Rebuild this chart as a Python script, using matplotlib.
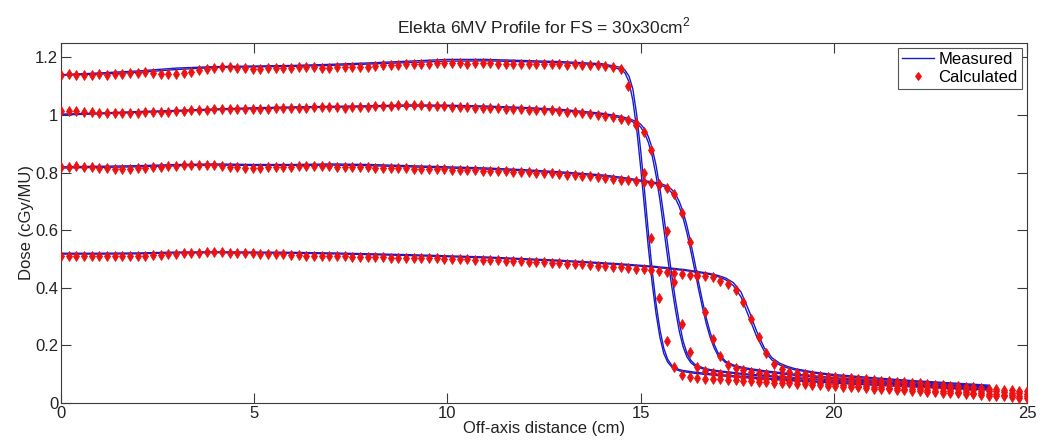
import numpy as np
import matplotlib
matplotlib.use("Agg")
import matplotlib.pyplot as plt
from matplotlib.ticker import FuncFormatter

# ---------------- data ----------------
title = "Elekta 6MV Profile for FS = 30x30cm$^2$"
xlabel = "Off-axis distance (cm)"
ylabel = "Dose (cGy/MU)"
legend_labels = ["Measured", "Calculated"]
x_ticks = [0, 5, 10, 15, 20, 25]
y_ticks = [0, 0.2, 0.4, 0.6, 0.8, 1.0, 1.2]

# measured profiles (two scans per depth), common x grid (cm)
meas_x = [0, 1, 2, 3, 4, 5, 6, 7, 8, 9, 10, 11, 12, 13, 14, 14.5,
          14.6, 14.7, 14.8, 14.9, 15.0, 15.1, 15.2, 15.3, 15.4, 15.5, 15.6, 15.7, 15.8, 15.9,
          16.0, 16.1, 16.2, 16.3, 16.4, 16.5, 16.6, 16.7, 16.8, 16.9, 17.0,
          17.2, 17.4, 17.6, 17.8, 18.0, 18.2, 18.4, 18.6, 18.8, 19.0, 19.5, 20, 21, 22, 23, 24]

meas_d1_a = [1.140, 1.146, 1.153, 1.163, 1.168, 1.170, 1.172, 1.176, 1.181, 1.187, 1.193, 1.193, 1.189, 1.185, 1.178, 1.165,
             1.155, 1.135, 1.090, 1.000, 0.880, 0.740, 0.595, 0.460, 0.345, 0.255, 0.190, 0.152, 0.132, 0.122,
             0.116, 0.113, 0.111, 0.109, 0.107, 0.106, 0.104, 0.103, 0.102, 0.100, 0.099,
             0.097, 0.095, 0.093, 0.091, 0.089, 0.087, 0.085, 0.084, 0.082, 0.080, 0.076, 0.072, 0.065, 0.059, 0.053, 0.047]
meas_d1_b = [1.138, 1.142, 1.148, 1.158, 1.165, 1.167, 1.169, 1.172, 1.177, 1.182, 1.187, 1.188, 1.185, 1.181, 1.174, 1.158,
             1.145, 1.115, 1.050, 0.950, 0.820, 0.680, 0.540, 0.415, 0.310, 0.228, 0.172, 0.142, 0.126, 0.117,
             0.112, 0.109, 0.107, 0.105, 0.103, 0.102, 0.100, 0.099, 0.098, 0.096, 0.095,
             0.093, 0.091, 0.089, 0.087, 0.085, 0.083, 0.082, 0.080, 0.078, 0.077, 0.073, 0.069, 0.062, 0.056, 0.050, 0.045]
meas_d2_a = [1.003, 1.007, 1.012, 1.016, 1.021, 1.025, 1.028, 1.030, 1.032, 1.035, 1.034, 1.031, 1.026, 1.019, 1.006, 0.995,
             0.991, 0.987, 0.982, 0.977, 0.968, 0.952, 0.925, 0.885, 0.825, 0.745, 0.650, 0.550, 0.450, 0.360,
             0.280, 0.215, 0.172, 0.148, 0.135, 0.128, 0.123, 0.119, 0.116, 0.114, 0.112,
             0.109, 0.106, 0.103, 0.100, 0.098, 0.096, 0.094, 0.092, 0.090, 0.088, 0.084, 0.079, 0.072, 0.065, 0.058, 0.052]
meas_d2_b = [1.000, 1.004, 1.009, 1.013, 1.018, 1.022, 1.025, 1.027, 1.029, 1.031, 1.031, 1.028, 1.023, 1.015, 1.002, 0.990,
             0.986, 0.982, 0.976, 0.969, 0.958, 0.938, 0.905, 0.858, 0.790, 0.705, 0.605, 0.505, 0.410, 0.325,
             0.250, 0.195, 0.160, 0.140, 0.129, 0.123, 0.119, 0.116, 0.113, 0.111, 0.109,
             0.106, 0.103, 0.100, 0.097, 0.095, 0.093, 0.091, 0.089, 0.087, 0.085, 0.081, 0.076, 0.069, 0.062, 0.056, 0.050]
meas_d3_a = [0.820, 0.822, 0.824, 0.828, 0.830, 0.828, 0.828, 0.830, 0.828, 0.824, 0.820, 0.816, 0.810, 0.802, 0.792, 0.784,
             0.782, 0.780, 0.778, 0.776, 0.774, 0.772, 0.770, 0.768, 0.765, 0.762, 0.758, 0.752, 0.742, 0.726,
             0.700, 0.664, 0.615, 0.555, 0.490, 0.420, 0.355, 0.295, 0.245, 0.205, 0.175,
             0.145, 0.132, 0.125, 0.120, 0.116, 0.112, 0.109, 0.106, 0.103, 0.100, 0.094, 0.088, 0.079, 0.071, 0.063, 0.057]
meas_d3_b = [0.816, 0.818, 0.820, 0.824, 0.826, 0.825, 0.825, 0.826, 0.824, 0.820, 0.816, 0.812, 0.806, 0.798, 0.788, 0.780,
             0.778, 0.776, 0.774, 0.772, 0.770, 0.768, 0.766, 0.764, 0.761, 0.757, 0.752, 0.744, 0.731, 0.711,
             0.682, 0.642, 0.590, 0.528, 0.462, 0.395, 0.332, 0.275, 0.228, 0.192, 0.166,
             0.140, 0.128, 0.121, 0.116, 0.112, 0.108, 0.105, 0.102, 0.099, 0.096, 0.090, 0.084, 0.076, 0.068, 0.061, 0.054]
meas_d4_a = [0.520, 0.520, 0.521, 0.524, 0.525, 0.524, 0.523, 0.521, 0.518, 0.515, 0.511, 0.507, 0.501, 0.495, 0.487, 0.483,
             0.482, 0.481, 0.480, 0.479, 0.478, 0.477, 0.476, 0.475, 0.474, 0.472, 0.471, 0.470, 0.468, 0.467,
             0.465, 0.464, 0.462, 0.460, 0.458, 0.456, 0.454, 0.452, 0.449, 0.446, 0.443,
             0.434, 0.418, 0.385, 0.322, 0.250, 0.192, 0.157, 0.138, 0.127, 0.119, 0.107, 0.099, 0.088, 0.078, 0.070, 0.062]
meas_d4_b = [0.517, 0.517, 0.518, 0.521, 0.522, 0.521, 0.520, 0.518, 0.515, 0.512, 0.508, 0.504, 0.498, 0.492, 0.484, 0.480,
             0.479, 0.478, 0.477, 0.476, 0.475, 0.474, 0.473, 0.472, 0.471, 0.469, 0.468, 0.467, 0.465, 0.464,
             0.462, 0.461, 0.459, 0.457, 0.455, 0.453, 0.451, 0.449, 0.446, 0.443, 0.439,
             0.428, 0.408, 0.368, 0.300, 0.232, 0.180, 0.149, 0.132, 0.122, 0.115, 0.104, 0.095, 0.084, 0.075, 0.067, 0.059]

# calculated profiles, 127 evenly spaced points from 0 to 25 cm
calc_x = np.linspace(0, 25, 127)
calc_d1 = [1.140, 1.142, 1.140, 1.138, 1.139, 1.141, 1.140, 1.141, 1.143, 1.145,
           1.147, 1.148, 1.146, 1.144, 1.142, 1.143, 1.146, 1.151, 1.157, 1.161,
           1.163, 1.165, 1.166, 1.164, 1.162, 1.160, 1.161, 1.163, 1.164, 1.162,
           1.163, 1.165, 1.166, 1.165, 1.163, 1.164, 1.166, 1.168, 1.167, 1.166,
           1.168, 1.170, 1.172, 1.174, 1.175, 1.176, 1.177, 1.178, 1.178, 1.179,
           1.179, 1.180, 1.179, 1.178, 1.179, 1.180, 1.179, 1.178, 1.177, 1.178,
           1.177, 1.178, 1.177, 1.176, 1.177, 1.176, 1.175, 1.176, 1.174, 1.173,
           1.172, 1.170, 1.168, 1.161, 1.100, 0.965, 0.800, 0.573, 0.365, 0.216,
           0.126, 0.097, 0.090, 0.087, 0.085, 0.083, 0.082, 0.080, 0.079, 0.077,
           0.076, 0.074, 0.073, 0.071, 0.070, 0.068, 0.067, 0.065, 0.064, 0.062,
           0.060, 0.059, 0.057, 0.055, 0.054, 0.052, 0.050, 0.049, 0.047, 0.046,
           0.044, 0.042, 0.041, 0.039, 0.038, 0.036, 0.034, 0.033, 0.031, 0.030,
           0.028, 0.026, 0.025, 0.023, 0.021, 0.019, 0.017]
calc_d2 = [1.014, 1.015, 1.013, 1.012, 1.010, 1.008, 1.007, 1.006, 1.006, 1.007,
           1.008, 1.009, 1.010, 1.011, 1.012, 1.013, 1.014, 1.016, 1.018, 1.019,
           1.020, 1.021, 1.022, 1.022, 1.021, 1.020, 1.021, 1.022, 1.024, 1.025,
           1.025, 1.026, 1.026, 1.027, 1.028, 1.028, 1.027, 1.026, 1.027, 1.028,
           1.029, 1.030, 1.031, 1.032, 1.033, 1.034, 1.034, 1.033, 1.032, 1.031,
           1.030, 1.029, 1.028, 1.027, 1.026, 1.025, 1.024, 1.023, 1.022, 1.021,
           1.020, 1.019, 1.018, 1.017, 1.016, 1.014, 1.012, 1.010, 1.007, 1.004,
           1.000, 0.996, 0.992, 0.986, 0.981, 0.973, 0.941, 0.877, 0.762, 0.597,
           0.420, 0.274, 0.178, 0.126, 0.110, 0.103, 0.099, 0.096, 0.093, 0.090,
           0.087, 0.085, 0.083, 0.081, 0.079, 0.077, 0.075, 0.073, 0.071, 0.069,
           0.067, 0.065, 0.064, 0.062, 0.060, 0.058, 0.057, 0.055, 0.053, 0.052,
           0.050, 0.048, 0.047, 0.045, 0.043, 0.042, 0.040, 0.038, 0.037, 0.035,
           0.034, 0.032, 0.030, 0.029, 0.027, 0.026, 0.024]
calc_d3 = [0.818, 0.820, 0.822, 0.821, 0.818, 0.816, 0.815, 0.814, 0.813, 0.814,
           0.815, 0.816, 0.818, 0.820, 0.822, 0.824, 0.826, 0.827, 0.827, 0.826,
           0.825, 0.823, 0.821, 0.819, 0.817, 0.816, 0.817, 0.818, 0.819, 0.820,
           0.821, 0.822, 0.823, 0.824, 0.823, 0.822, 0.821, 0.820, 0.819, 0.818,
           0.818, 0.817, 0.817, 0.816, 0.816, 0.815, 0.814, 0.813, 0.813, 0.812,
           0.811, 0.810, 0.809, 0.809, 0.808, 0.807, 0.806, 0.805, 0.804, 0.803,
           0.802, 0.801, 0.800, 0.798, 0.797, 0.795, 0.793, 0.791, 0.789, 0.787,
           0.785, 0.782, 0.779, 0.776, 0.773, 0.770, 0.767, 0.763, 0.758, 0.745,
           0.724, 0.658, 0.560, 0.440, 0.317, 0.221, 0.162, 0.132, 0.120, 0.113,
           0.108, 0.104, 0.100, 0.097, 0.094, 0.091, 0.089, 0.087, 0.085, 0.083,
           0.080, 0.078, 0.076, 0.074, 0.072, 0.070, 0.068, 0.066, 0.064, 0.062,
           0.060, 0.058, 0.057, 0.055, 0.053, 0.051, 0.050, 0.048, 0.046, 0.045,
           0.043, 0.041, 0.040, 0.038, 0.036, 0.034, 0.032]
calc_d4 = [0.511, 0.510, 0.509, 0.509, 0.510, 0.510, 0.509, 0.509, 0.510, 0.511,
           0.512, 0.512, 0.513, 0.515, 0.517, 0.519, 0.520, 0.521, 0.522, 0.523,
           0.523, 0.523, 0.522, 0.522, 0.521, 0.520, 0.519, 0.518, 0.517, 0.516,
           0.515, 0.513, 0.512, 0.511, 0.510, 0.510, 0.509, 0.509, 0.508, 0.507,
           0.507, 0.506, 0.506, 0.505, 0.505, 0.504, 0.504, 0.503, 0.503, 0.502,
           0.501, 0.500, 0.500, 0.499, 0.498, 0.497, 0.496, 0.495, 0.494, 0.493,
           0.492, 0.491, 0.490, 0.489, 0.487, 0.486, 0.484, 0.483, 0.481, 0.479,
           0.477, 0.475, 0.473, 0.471, 0.469, 0.467, 0.465, 0.462, 0.459, 0.456,
           0.452, 0.449, 0.446, 0.443, 0.440, 0.436, 0.424, 0.412, 0.392, 0.349,
           0.290, 0.228, 0.175, 0.137, 0.118, 0.108, 0.103, 0.100, 0.097, 0.095,
           0.092, 0.090, 0.088, 0.086, 0.084, 0.082, 0.080, 0.078, 0.076, 0.074,
           0.072, 0.070, 0.068, 0.066, 0.064, 0.062, 0.060, 0.058, 0.056, 0.054,
           0.052, 0.050, 0.048, 0.046, 0.044, 0.042, 0.040]

measured = [meas_d1_a, meas_d1_b, meas_d2_a, meas_d2_b,
            meas_d3_a, meas_d3_b, meas_d4_a, meas_d4_b]
calculated = [calc_d1, calc_d2, calc_d3, calc_d4]

# ---------------- style ----------------
plt.rcParams['font.family'] = ['Liberation Sans', 'DejaVu Sans']
plt.rcParams['mathtext.fontset'] = 'custom'
plt.rcParams['mathtext.rm'] = 'Liberation Sans'
axis_color = '#3a3a3a'
text_color = '#222222'
fs = 12

fig = plt.figure(figsize=(10.43, 4.47), dpi=100)
ax = fig.add_axes([61 / 1043, 44 / 447, 966 / 1043, 360 / 447])

line_handle = None
for ys in measured:
    (line_handle,) = ax.plot(meas_x, ys, color='#1a1ac8', lw=1.0, zorder=2)

marker_handle = None
for ys in calculated:
    (marker_handle,) = ax.plot(calc_x, ys, linestyle='none', marker='d',
                               markersize=5.2, color='#ee1111',
                               markeredgecolor='#ee1111', markeredgewidth=0.6,
                               zorder=3)

ax.set_xlim(0, 25)
ax.set_ylim(0, 1.25)
ax.set_xticks(x_ticks)
ax.set_yticks(y_ticks)
ax.yaxis.set_major_formatter(FuncFormatter(lambda v, p: f"{v:g}"))
ax.xaxis.set_major_formatter(FuncFormatter(lambda v, p: f"{v:g}"))

ax.tick_params(direction='in', length=7, width=0.8, colors=axis_color,
               labelcolor=text_color, labelsize=fs, top=True, right=True, pad=2)
for s in ax.spines.values():
    s.set_color(axis_color)
    s.set_linewidth(0.8)

ax.set_xlabel(xlabel, fontsize=fs, color=text_color, labelpad=0)
ax.set_ylabel(ylabel, fontsize=fs, color=text_color, labelpad=1)
ax.set_title(title, fontsize=12.5, color=text_color, pad=7)

leg = ax.legend([line_handle, marker_handle], legend_labels, loc='upper right',
                fontsize=fs, numpoints=1, fancybox=False, framealpha=1,
                edgecolor='#555555', borderaxespad=0.3, handlelength=1.9,
                handletextpad=0.3, labelspacing=0.15, borderpad=0.25)
leg.get_frame().set_linewidth(0.8)
leg.legend_handles[1].set_markersize(4.5)

fig.savefig('out.png', dpi=100)
